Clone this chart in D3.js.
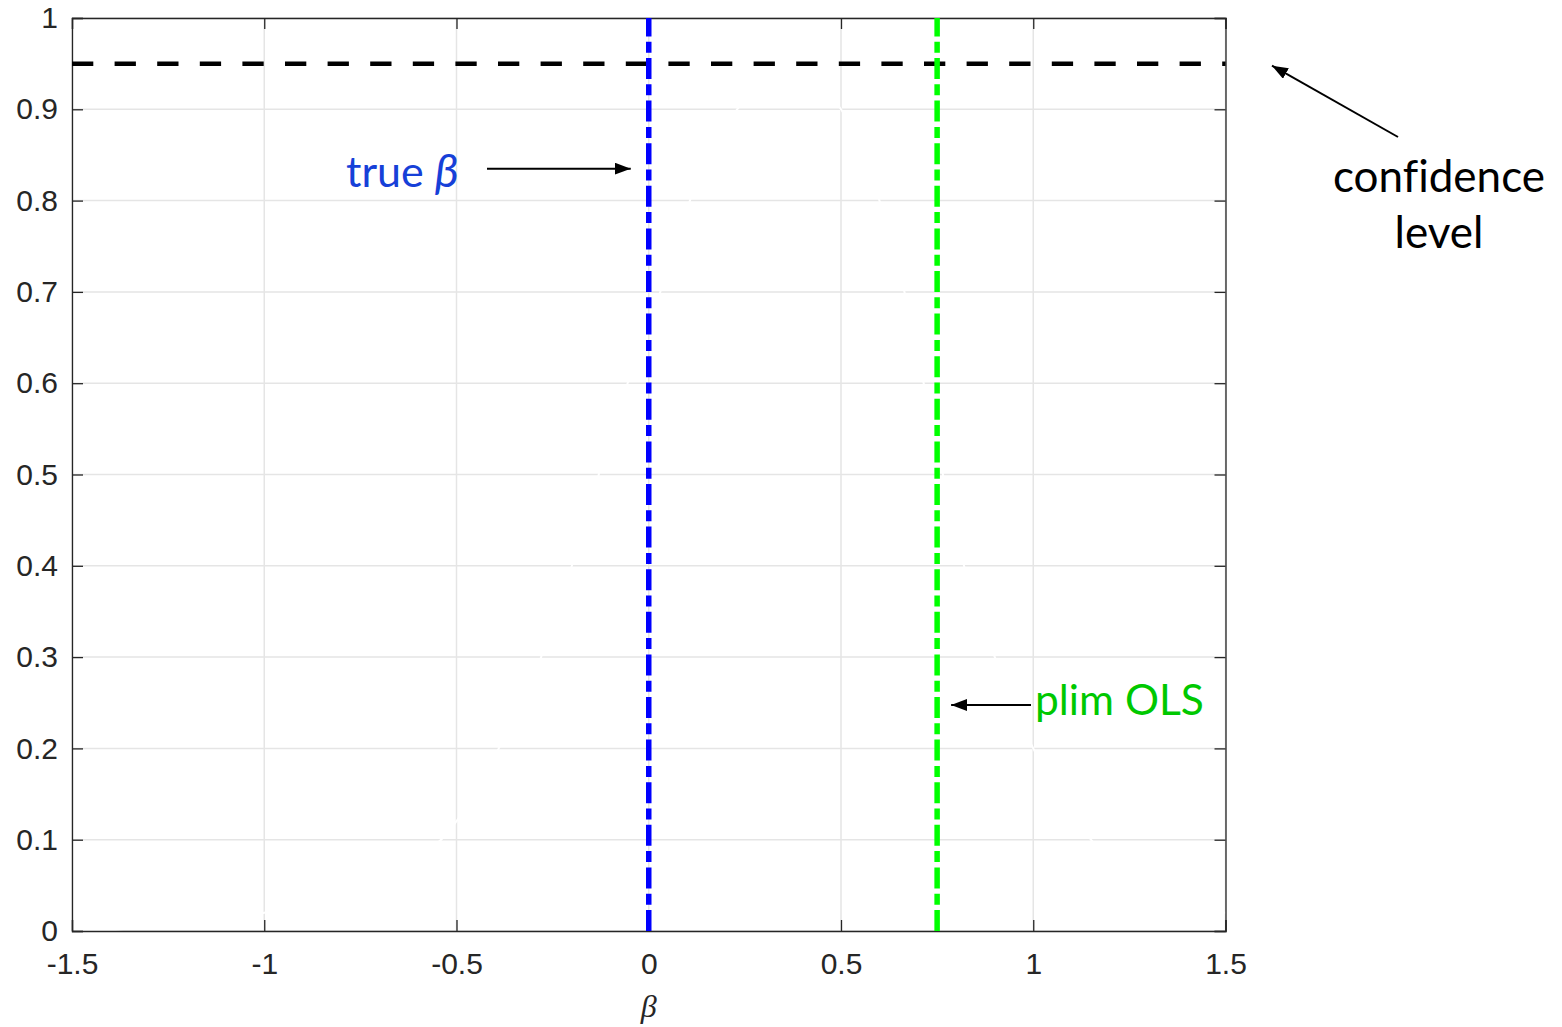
<!DOCTYPE html>
<html>
<head>
<meta charset="utf-8">
<script src="https://cdn.jsdelivr.net/npm/d3@7"></script>
<style>
  body { margin: 0; background: #fff; }
  svg { display: block; }
</style>
</head>
<body>
<svg id="chart"></svg>
<script>
// chart values
const xTicks = [-1.5, -1, -0.5, 0, 0.5, 1, 1.5];
const yTicks = [0, 0.1, 0.2, 0.3, 0.4, 0.5, 0.6, 0.7, 0.8, 0.9, 1];
const confidenceLevel = 0.95;
const trueBeta = 0;
const plimOLS = 0.75;
// hidden (white) coverage curve, only visible where it cuts the grid
const curveBeta = [-1.5, -1.43, -1.3, -1.0, -0.8, -0.65, -0.54, -0.39, -0.28, -0.2, -0.13, -0.055, 0.03, 0.107, 0.23, 0.37, 0.5, 0.6, 0.665, 0.715, 0.765, 0.82, 0.9, 1.0, 1.15, 1.3, 1.5];
const curveValue = [0, 0, 0.006, 0.02, 0.045, 0.075, 0.1, 0.2, 0.3, 0.4, 0.5, 0.6, 0.7, 0.8, 0.9, 0.94, 0.9, 0.8, 0.7, 0.6, 0.5, 0.4, 0.3, 0.2, 0.1, 0.045, 0.02];

const width = 1562, height = 1027;
const margin = { top: 18, right: 336, bottom: 96, left: 72 };
const axisColor = "#262626";
const gridColor = "#e5e5e5";
const tickLen = 11;

const svg = d3.select("#chart").attr("width", width).attr("height", height);

const x = d3.scaleLinear().domain([-1.5, 1.5]).range([margin.left, width - margin.right - 0.5]);
const y = d3.scaleLinear().domain([0, 1]).range([height - margin.bottom, margin.top]);

// grid
const grid = svg.append("g");
grid.selectAll(".gx").data(xTicks).enter().append("line")
    .attr("x1", d => x(d)).attr("x2", d => x(d))
    .attr("y1", y(0)).attr("y2", y(1))
    .attr("stroke", gridColor).attr("stroke-width", 1.5);
grid.selectAll(".gy").data(yTicks).enter().append("line")
    .attr("x1", x(-1.5)).attr("x2", x(1.5))
    .attr("y1", d => y(d)).attr("y2", d => y(d))
    .attr("stroke", gridColor).attr("stroke-width", 1.5);

// white curve
const curveData = curveBeta.map((b, i) => ({ b: b, v: curveValue[i] }));
svg.append("path")
    .datum(curveData)
    .attr("d", d3.line().x(d => x(d.b)).y(d => y(d.v)).curve(d3.curveMonotoneX))
    .attr("fill", "none")
    .attr("stroke", "#ffffff")
    .attr("stroke-width", 2);

// axes (box with inward ticks)
const fmt = d => String(d);
const xAxis = svg.append("g")
    .attr("transform", `translate(0,${y(0)})`)
    .call(d3.axisBottom(x).tickValues(xTicks).tickSize(-tickLen).tickPadding(tickLen + 11).tickFormat(fmt));
const yAxis = svg.append("g")
    .attr("transform", `translate(${x(-1.5)},0)`)
    .call(d3.axisLeft(y).tickValues(yTicks).tickSize(-tickLen).tickPadding(14).tickFormat(fmt));
const xTop = svg.append("g")
    .attr("transform", `translate(0,${y(1)})`)
    .call(d3.axisTop(x).tickValues(xTicks).tickSize(-tickLen).tickFormat(""));
const yRight = svg.append("g")
    .attr("transform", `translate(${x(1.5)},0)`)
    .call(d3.axisRight(y).tickValues(yTicks).tickSize(-tickLen).tickFormat(""));

[xAxis, yAxis, xTop, yRight].forEach(g => {
    g.select(".domain").attr("stroke", axisColor).attr("stroke-width", 1.3);
    g.selectAll(".tick line").attr("stroke", axisColor).attr("stroke-width", 1.3);
    g.selectAll(".tick text")
        .attr("fill", axisColor)
        .style("font-family", "'Liberation Sans', Arial, sans-serif")
        .style("font-size", "30px");
});

// x label
svg.append("text")
    .attr("x", x(0))
    .attr("y", 1017)
    .attr("text-anchor", "middle")
    .attr("fill", axisColor)
    .style("font-family", "'Liberation Serif', 'Times New Roman', serif")
    .style("font-style", "italic")
    .style("font-size", "32px")
    .text("β");

// confidence level line
svg.append("line")
    .attr("x1", x(-1.5)).attr("x2", x(1.5))
    .attr("y1", y(confidenceLevel)).attr("y2", y(confidenceLevel))
    .attr("stroke", "#000").attr("stroke-width", 4.5)
    .attr("stroke-dasharray", "21.3,21.3");

// vertical reference lines (dash-dot, drawn bottom-up)
const vlines = [
    { v: trueBeta, color: "#0000ff" },
    { v: plimOLS, color: "#00ff00" }
];
svg.selectAll(".vline").data(vlines).enter().append("line")
    .attr("x1", d => x(d.v)).attr("x2", d => x(d.v))
    .attr("y1", y(0)).attr("y2", y(1))
    .attr("stroke", d => d.color)
    .attr("stroke-width", 5.5)
    .attr("stroke-dasharray", "21,5.3,11,5.3");

// annotations
const defs = svg.append("defs");
defs.append("marker")
    .attr("id", "arrow")
    .attr("markerUnits", "userSpaceOnUse")
    .attr("viewBox", "0 0 16 12")
    .attr("refX", 16).attr("refY", 6)
    .attr("markerWidth", 16).attr("markerHeight", 12)
    .attr("orient", "auto")
    .append("path").attr("d", "M0,0L16,6L0,12Z").attr("fill", "#000");

const annoFont = "Lato, 'Open Sans', sans-serif";

function arrow(x1, y1, x2, y2) {
    svg.append("line")
        .attr("x1", x1).attr("y1", y1).attr("x2", x2).attr("y2", y2)
        .attr("stroke", "#000").attr("stroke-width", 2)
        .attr("marker-end", "url(#arrow)");
}

// true beta
arrow(487, y(0.835), x(trueBeta) - 18, y(0.835));
const tb = svg.append("text")
    .attr("x", 346).attr("y", 187)
    .attr("fill", "#1640d8")
    .style("font-family", annoFont)
    .style("font-size", "43px");
tb.append("tspan").text("true ");
tb.append("tspan").style("font-style", "italic").style("font-size", "46px").text("β");

// plim OLS
arrow(1031, y(0.2475), x(plimOLS) + 14, y(0.2475));
svg.append("text")
    .attr("x", 1035).attr("y", 715)
    .attr("fill", "#00c800")
    .style("font-family", annoFont)
    .style("font-size", "42.5px")
    .text("plim OLS");

// confidence level
arrow(1398, 137, 1272, y(confidenceLevel) + 2);
const cl = svg.append("text")
    .attr("text-anchor", "middle")
    .attr("fill", "#000")
    .style("font-family", annoFont)
    .style("font-size", "44px")
    .style("font-variant-ligatures", "none");
cl.append("tspan").attr("x", 1439).attr("y", 192).text("confidence");
cl.append("tspan").attr("x", 1439).attr("y", 248).text("level");
</script>
</body>
</html>
